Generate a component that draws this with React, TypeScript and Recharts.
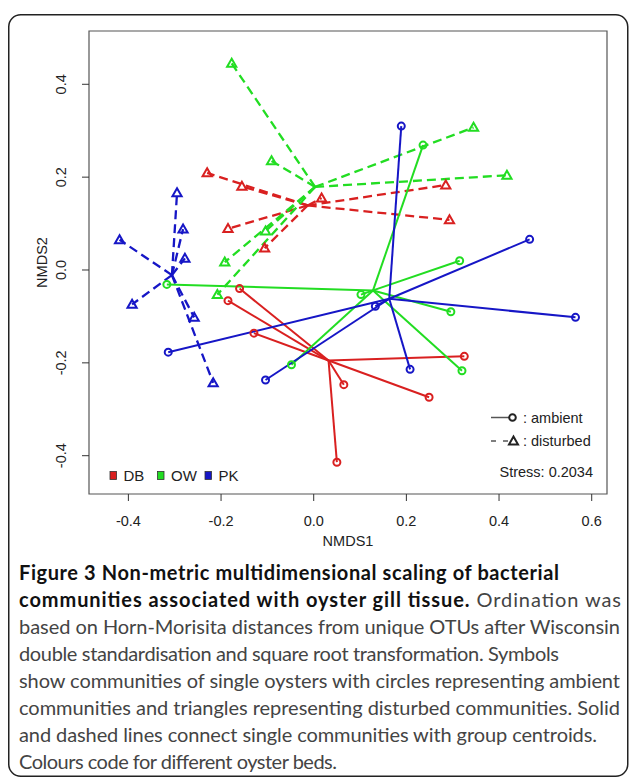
import React from "react";
import { ScatterChart, Scatter, XAxis, YAxis, ReferenceLine, ReferenceArea } from "recharts";

type Pt = { x: number; y: number };

const bedNames = ["DB", "OW", "PK"];
const bedColors = ["#d92020", "#22dd22", "#1616c6"];

// single oysters, ambient (circles)
const dbAmbient: Pt[] = [
  { x: -0.16, y: -0.04 }, { x: -0.185, y: -0.066 }, { x: -0.129, y: -0.136 },
  { x: 0.065, y: -0.247 }, { x: 0.05, y: -0.414 }, { x: 0.325, y: -0.186 }, { x: 0.249, y: -0.274 },
];
const owAmbient: Pt[] = [
  { x: -0.317, y: -0.031 }, { x: 0.102, y: -0.053 }, { x: 0.296, y: -0.09 },
  { x: 0.32, y: -0.217 }, { x: 0.236, y: 0.269 }, { x: 0.315, y: 0.02 }, { x: -0.048, y: -0.204 },
];
const pkAmbient: Pt[] = [
  { x: 0.189, y: 0.31 }, { x: 0.466, y: 0.066 }, { x: 0.565, y: -0.102 },
  { x: 0.208, y: -0.214 }, { x: 0.133, y: -0.078 }, { x: -0.314, y: -0.177 }, { x: -0.104, y: -0.237 },
];

// single oysters, disturbed (triangles)
const dbDisturbed: Pt[] = [
  { x: -0.23, y: 0.209 }, { x: -0.155, y: 0.18 }, { x: 0.017, y: 0.155 },
  { x: -0.185, y: 0.089 }, { x: -0.106, y: 0.047 }, { x: 0.285, y: 0.183 }, { x: 0.293, y: 0.108 },
];
const owDisturbed: Pt[] = [
  { x: -0.177, y: 0.445 }, { x: -0.091, y: 0.235 }, { x: -0.104, y: 0.084 },
  { x: -0.192, y: 0.017 }, { x: -0.208, y: -0.053 }, { x: 0.345, y: 0.307 }, { x: 0.417, y: 0.204 },
];
const pkDisturbed: Pt[] = [
  { x: -0.295, y: 0.166 }, { x: -0.282, y: 0.088 }, { x: -0.278, y: 0.025 },
  { x: -0.419, y: 0.065 }, { x: -0.392, y: -0.074 }, { x: -0.258, y: -0.102 }, { x: -0.217, y: -0.243 },
];

// group centroids
const dbAmbientCentroid: Pt = { x: 0.032, y: -0.195 };
const owAmbientCentroid: Pt = { x: 0.128, y: -0.044 };
const pkAmbientCentroid: Pt = { x: 0.163, y: -0.062 };
const dbDisturbedCentroid: Pt = { x: -0.013, y: 0.139 };
const owDisturbedCentroid: Pt = { x: 0.003, y: 0.179 };
const pkDisturbedCentroid: Pt = { x: -0.306, y: -0.011 };

const xTicks = [-0.4, -0.2, 0, 0.2, 0.4, 0.6];
const yTicks = [-0.4, -0.2, 0, 0.2, 0.4];
const xDomain: [number, number] = [-0.485, 0.633];
const yDomain: [number, number] = [-0.4825, 0.5148];

const groups = [
  { bed: 0, kind: "disturbed", points: dbDisturbed, centroid: dbDisturbedCentroid },
  { bed: 1, kind: "disturbed", points: owDisturbed, centroid: owDisturbedCentroid },
  { bed: 2, kind: "disturbed", points: pkDisturbed, centroid: pkDisturbedCentroid },
  { bed: 0, kind: "ambient", points: dbAmbient, centroid: dbAmbientCentroid },
  { bed: 1, kind: "ambient", points: owAmbient, centroid: owAmbientCentroid },
  { bed: 2, kind: "ambient", points: pkAmbient, centroid: pkAmbientCentroid },
];

const FONT = "'Liberation Sans', Arial, sans-serif";
const CAPTION_FONT = "Lato, 'Open Sans', sans-serif";
const fmt = (v: number) => v.toFixed(1);

const XTick = (props: any) => {
  const { x, y, payload } = props;
  return (
    <text x={x} y={y + 25} textAnchor="middle" fontSize={14.5} fontFamily={FONT} fill="#222">
      {fmt(payload.value)}
    </text>
  );
};

const YTick = (props: any) => {
  const { x, y, payload } = props;
  const bx = x - 15.5;
  return (
    <text x={bx} y={y} transform={`rotate(-90 ${bx} ${y})`} textAnchor="middle" fontSize={14.5} fontFamily={FONT} fill="#222">
      {fmt(payload.value)}
    </text>
  );
};

const circleShape = (color: string) => (props: any) =>
  <circle cx={props.cx} cy={props.cy} r={3.5} fill="none" stroke={color} strokeWidth={2} />;

const triangleShape = (color: string) => (props: any) => {
  const { cx, cy } = props;
  const pts = `${cx},${cy - 4.6} ${cx - 4.6},${cy + 3.4} ${cx + 4.6},${cy + 3.4}`;
  return <polygon points={pts} fill="none" stroke={color} strokeWidth={2} />;
};

// caption, line by line as typeset in the figure (len = printed line width)
const captionLines: { bold?: string; text?: string; len: number }[] = [
  { bold: "Figure 3 Non-metric multidimensional scaling of bacterial", len: 540 },
  { bold: "communities associated with oyster gill tissue.", text: " Ordination was", len: 602 },
  { text: "based on Horn-Morisita distances from unique OTUs after Wisconsin", len: 601 },
  { text: "double standardisation and square root transformation. Symbols", len: 540 },
  { text: "show communities of single oysters with circles representing ambient", len: 601 },
  { text: "communities and triangles representing disturbed communities. Solid", len: 601 },
  { text: "and dashed lines connect single communities with group centroids.", len: 578 },
  { text: "Colours code for different oyster beds.", len: 318 },
];

export default function App() {
  return (
    <div style={{ position: "absolute", left: 0, top: 0, width: 629, height: 778, background: "#fff", overflow: "hidden" }}>
      <div style={{ position: "absolute", left: 0, top: 0 }}>
        <ScatterChart width={629} height={560} margin={{ top: 31, right: 22, bottom: 16, left: 29 }}>
          <XAxis type="number" dataKey="x" domain={xDomain} ticks={xTicks} allowDataOverflow interval={0}
            axisLine={false} tickLine={{ stroke: "#333" }} tickSize={7} tickMargin={0} height={50} tick={XTick} />
          <YAxis type="number" dataKey="y" domain={yDomain} ticks={yTicks} allowDataOverflow interval={0}
            axisLine={false} tickLine={{ stroke: "#333" }} tickSize={7} tickMargin={0} width={60} tick={YTick} />
          <ReferenceArea x1={xDomain[0]} x2={xDomain[1]} y1={yDomain[0]} y2={yDomain[1]}
            fill="none" fillOpacity={0} stroke="#555" strokeWidth={1.2} ifOverflow="visible" />
          {groups.flatMap((g) =>
            g.points.map((p, i) => (
              <ReferenceLine key={`${g.kind}-${g.bed}-${i}`} segment={[g.centroid, p]} ifOverflow="visible"
                stroke={bedColors[g.bed]} strokeWidth={g.kind === "disturbed" ? 2.3 : 2}
                strokeDasharray={g.kind === "disturbed" ? "9 5" : undefined} />
            ))
          )}
          {groups.map((g) => (
            <Scatter key={`pts-${g.kind}-${g.bed}`} data={g.points} isAnimationActive={false}
              shape={g.kind === "ambient" ? circleShape(bedColors[g.bed]) : triangleShape(bedColors[g.bed])} />
          ))}
        </ScatterChart>
      </div>

      <svg width={629} height={778} style={{ position: "absolute", left: 0, top: 0, pointerEvents: "none" }}>
        <rect x={8.75} y={14.75} width={619} height={761.5} rx={12} fill="none" stroke="#222" strokeWidth={1.5} />
        <text x={348} y={546} textAnchor="middle" fontSize={14.5} fontFamily={FONT} fill="#222">NMDS1</text>
        <text x={47} y={262.5} transform="rotate(-90 47 262.5)" textAnchor="middle" fontSize={14.5} fontFamily={FONT} fill="#222">NMDS2</text>

        {bedNames.map((name, i) => {
          const sx = [110, 157.5, 205][i];
          return (
            <g key={name}>
              <rect x={sx} y={471.5} width={6.5} height={8} fill={bedColors[i]} stroke="#333" strokeWidth={0.8} />
              <text x={sx + 13.5} y={480.5} fontSize={15} fontFamily={FONT} fill="#222">{name}</text>
            </g>
          );
        })}

        <line x1={491} y1={417.5} x2={509} y2={417.5} stroke="#555" strokeWidth={1.5} />
        <circle cx={512.5} cy={417.5} r={3.3} fill="none" stroke="#222" strokeWidth={2} />
        <text x={523} y={422.5} fontSize={14.5} fontFamily={FONT} fill="#222">: ambient</text>
        <line x1={491} y1={441} x2={510} y2={441} stroke="#555" strokeWidth={1.5} strokeDasharray="5 7" />
        <polygon points="513.5,436.6 509,444.4 518,444.4" fill="none" stroke="#222" strokeWidth={2} />
        <text x={523} y={446} fontSize={14.5} fontFamily={FONT} fill="#222">: disturbed</text>
        <text x={593} y={477} textAnchor="end" fontSize={14.5} fontFamily={FONT} fill="#222">Stress: 0.2034</text>

        {captionLines.map((l, i) => (
          <text key={i} x={19} y={580 + i * 27} fontSize={20} fontFamily={CAPTION_FONT} fill="#444"
            textLength={l.len} lengthAdjust="spacing">
            {l.bold && <tspan fontWeight={700} fill="#111">{l.bold}</tspan>}
            {l.text && <tspan>{l.text}</tspan>}
          </text>
        ))}
      </svg>
    </div>
  );
}
